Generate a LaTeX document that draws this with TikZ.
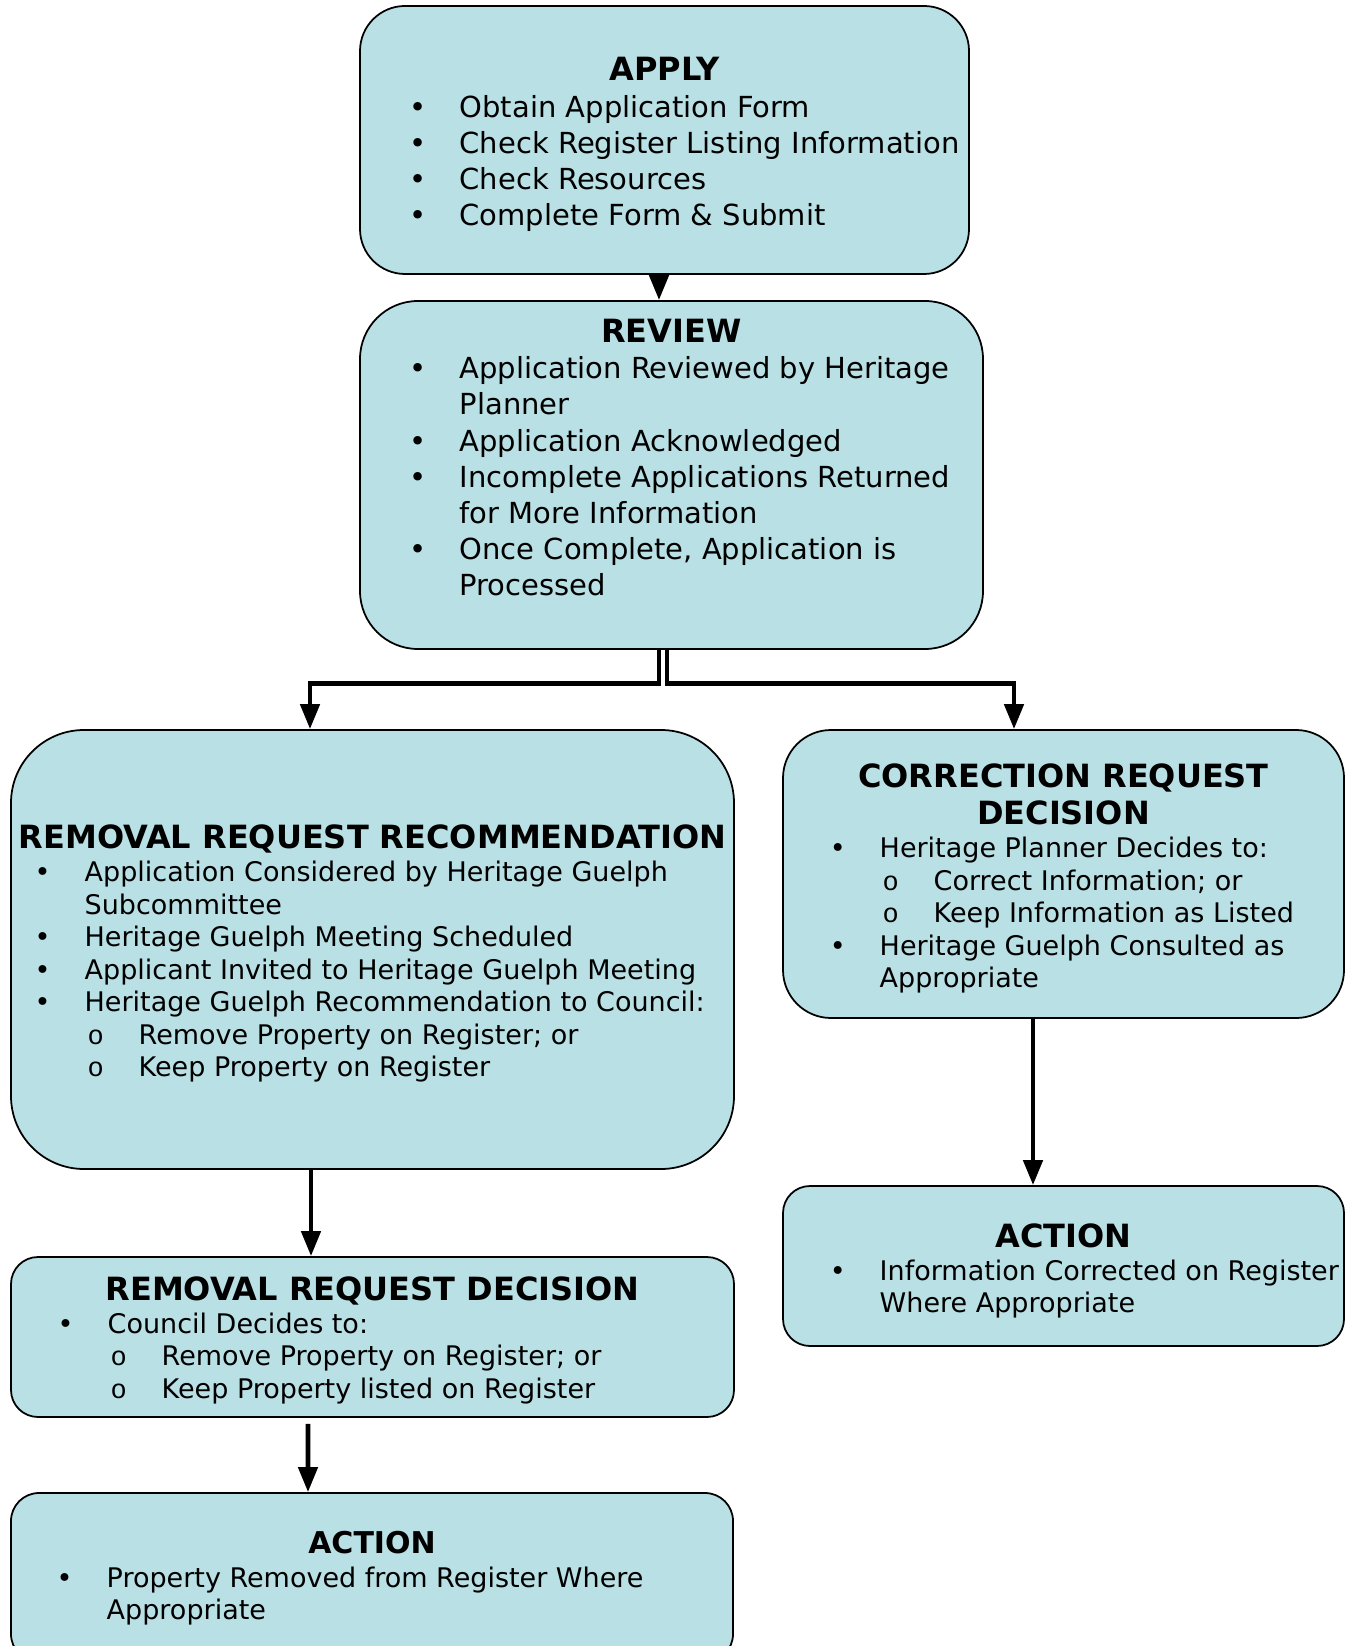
\documentclass[tikz,border=0pt]{standalone}
\usepackage{fontspec}
\setmainfont{DejaVu Sans}
\newfontfamily\monofont{Liberation Mono}
\usetikzlibrary{arrows.meta}

\definecolor{boxfill}{HTML}{B9E0E4}

% list lines: bullet, continuation, sub-item
\newcommand\itm{\makebox[0pt]{\textbullet}\hspace*{0.42cm}}
\newcommand\itmcont{\hspace*{0.42cm}}
\newcommand\subitm{\hspace*{0.53cm}\makebox[0pt]{\monofont o}\hspace*{0.43cm}}

\begin{document}
\begin{tikzpicture}[
  stage/.style={draw, line width=0.5pt, fill=boxfill, inner sep=0pt},
  head/.style={anchor=north, inner sep=0pt, align=center, font=\bfseries\fontsize{0.32cm}{0.366cm}\selectfont},
  bigtxt/.style={anchor=north west, inner sep=0pt, align=left, font=\fontsize{0.29cm}{0.362cm}\selectfont},
  smalltxt/.style={anchor=north west, inner sep=0pt, align=left, font=\fontsize{0.27cm}{0.325cm}\selectfont},
  flow/.style={line width=1.3pt, -{Triangle[length=0.25cm,width=0.19cm]}}]
\useasboundingbox (0,0) rectangle (13.47,-16.46);

% boxes
\node[stage, minimum width=6.09cm, minimum height=2.68cm, rounded corners=0.45cm] (apply) at (6.645,-1.40) {};
\node[stage, minimum width=6.23cm, minimum height=3.48cm, rounded corners=0.58cm] (review) at (6.715,-4.75) {};
\node[stage, minimum width=7.23cm, minimum height=4.39cm, rounded corners=0.73cm] (remrec) at (3.725,-9.495) {};
\node[stage, minimum width=5.61cm, minimum height=2.88cm, rounded corners=0.48cm] (correct) at (10.635,-8.74) {};
\node[stage, minimum width=5.61cm, minimum height=1.60cm, rounded corners=0.27cm] (actright) at (10.635,-12.66) {};
\node[stage, minimum width=7.23cm, minimum height=1.60cm, rounded corners=0.27cm] (remdec) at (3.725,-13.37) {};
\node[stage, minimum width=7.22cm, minimum height=1.69cm, rounded corners=0.28cm] (actbot) at (3.72,-15.775) {};

% headings
\node[head] (applyhd) at (6.645,-0.544) {\strut APPLY};
\node[head] (reviewhd) at (6.715,-3.158) {\strut REVIEW};
\node[head] (remrechd) at (3.725,-8.219) {\strut REMOVAL REQUEST RECOMMENDATION};
\node[head] (correcthd) at (10.635,-7.611) {\strut CORRECTION REQUEST\\DECISION};
\node[head] (actrighthd) at (10.635,-12.209) {\strut ACTION};
\node[head] (remdechd) at (3.725,-12.744) {\strut REMOVAL REQUEST DECISION};
\node[head, font=\bfseries\fontsize{0.30cm}{0.366cm}\selectfont] (actbothd) at (3.72,-15.274) {\strut ACTION};

% lists
\node[bigtxt] (applytx) at (4.17,-0.912) {\strut\itm Obtain Application Form\\
  \itm Check Register Listing Information\\
  \itm Check Resources\\
  \itm Complete Form \& Submit};
\node[bigtxt] (reviewtx) at (4.17,-3.527) {\strut\itm Application Reviewed by Heritage\\
  \itmcont Planner\\
  \itm Application Acknowledged\\
  \itm Incomplete Applications Returned\\
  \itmcont for More Information\\
  \itm Once Complete, Application is\\
  \itmcont Processed};
\node[smalltxt] (remrectx) at (0.42,-8.583) {\strut\itm Application Considered by Heritage Guelph\\
  \itmcont Subcommittee\\
  \itm Heritage Guelph Meeting Scheduled\\
  \itm Applicant Invited to Heritage Guelph Meeting\\
  \itm Heritage Guelph Recommendation to Council:\\
  \subitm Remove Property on Register; or\\
  \subitm Keep Property on Register};
\node[smalltxt] (correcttx) at (8.37,-8.345) {\strut\itm Heritage Planner Decides to:\\
  \subitm Correct Information; or\\
  \subitm Keep Information as Listed\\
  \itm Heritage Guelph Consulted as\\
  \itmcont Appropriate};
\node[smalltxt] (actrighttx) at (8.37,-12.57) {\strut\itm Information Corrected on Register\\
  \itmcont Where Appropriate};
\node[smalltxt] (remdectx) at (0.65,-13.10) {\strut\itm Council Decides to:\\
  \subitm Remove Property on Register; or\\
  \subitm Keep Property listed on Register};
\node[smalltxt] (actbottx) at (0.64,-15.64) {\strut\itm Property Removed from Register Where\\
  \itmcont Appropriate};

% connectors
\draw[flow] ([xshift=-0.55mm]apply.south) -- ([xshift=-1.25mm]review.north);
\draw[flow] ([xshift=-1.25mm]review.south) -- ++(0,-0.335) -| ([xshift=-6.25mm]remrec.north);
\draw[flow] ([xshift=-0.45mm]review.south) -- ++(0,-0.335) -| ([xshift=-4.95mm]correct.north);
\draw[flow] ([xshift=-6.15mm]remrec.south) -- ([xshift=-6.15mm]remdec.north);
\draw[flow] ([xshift=-6.45mm,yshift=-0.6mm]remdec.south) -- ([xshift=-6.4mm]actbot.north);
\draw[flow] ([xshift=-3.05mm]correct.south) -- ([xshift=-3.05mm]actright.north);
\end{tikzpicture}
\end{document}
